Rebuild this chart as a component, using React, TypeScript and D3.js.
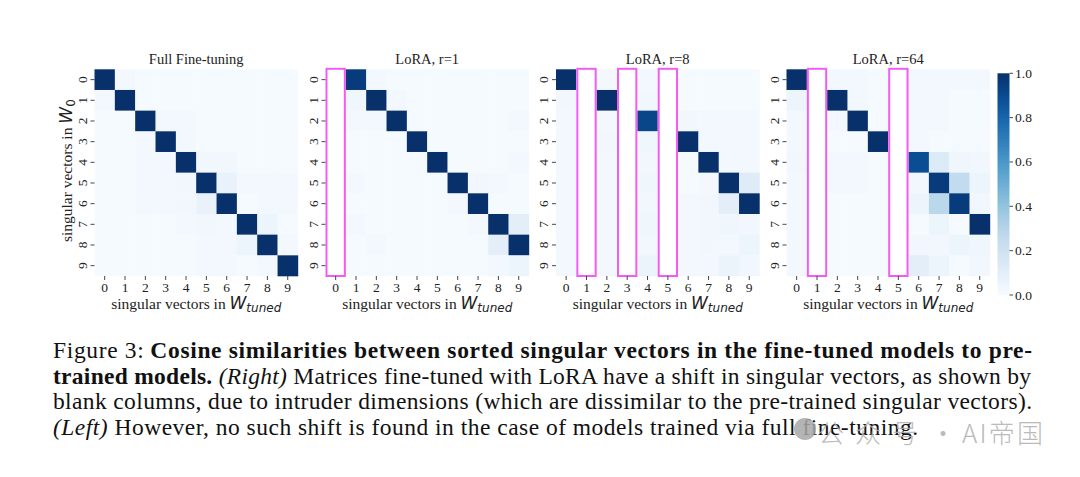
import React from "react";
import * as d3 from "d3";

// ---------- data ----------
const tickLabels = ["0", "1", "2", "3", "4", "5", "6", "7", "8", "9"];
const panelTitles = ["Full Fine-tuning", "LoRA, r=1", "LoRA, r=8", "LoRA, r=64"];

const fullFT = [
  [1, 0.02, 0.01, 0.01, 0.01, 0.01, 0.01, 0.01, 0.01, 0.01],
  [0.02, 1, 0.01, 0.01, 0.01, 0.01, 0.01, 0.01, 0.01, 0.01],
  [0.01, 0.01, 1, 0.02, 0.02, 0.01, 0.01, 0.01, 0.01, 0.01],
  [0.01, 0.01, 0.02, 1, 0.02, 0.01, 0.01, 0.01, 0.01, 0.01],
  [0.01, 0.01, 0.02, 0.02, 1, 0.03, 0.03, 0.01, 0.01, 0.01],
  [0.01, 0.01, 0.02, 0.02, 0.03, 1, 0.07, 0.02, 0.02, 0.02],
  [0.01, 0.01, 0.02, 0.02, 0.03, 0.07, 1, 0.01, 0.02, 0.02],
  [0.01, 0.01, 0.01, 0.01, 0.02, 0.03, 0.02, 1, 0.05, 0.01],
  [0.01, 0.01, 0.01, 0.01, 0.01, 0.02, 0.02, 0.05, 1, 0.02],
  [0.01, 0.01, 0.01, 0.01, 0.01, 0.02, 0.02, 0.01, 0.02, 1],
];
const lora1 = [
  [0, 0.96, 0.02, 0.01, 0.01, 0.01, 0.01, 0.01, 0.01, 0.01],
  [0, 0.04, 1, 0.02, 0.01, 0.01, 0.01, 0.01, 0.01, 0.01],
  [0, 0.02, 0.02, 1, 0.01, 0.01, 0.01, 0.01, 0.01, 0.02],
  [0, 0.01, 0.01, 0.01, 1, 0.01, 0.01, 0.01, 0.01, 0.01],
  [0, 0.01, 0.01, 0.01, 0.01, 1, 0.01, 0.01, 0.01, 0.02],
  [0, 0.02, 0.01, 0.01, 0.01, 0.01, 1, 0.03, 0.02, 0.01],
  [0, 0.01, 0.01, 0.01, 0.01, 0.01, 0.02, 1, 0.01, 0.01],
  [0, 0.02, 0.01, 0.01, 0.01, 0.01, 0.01, 0.02, 1, 0.1],
  [0, 0.01, 0.02, 0.01, 0.01, 0.01, 0.01, 0.01, 0.1, 1],
  [0, 0.01, 0.01, 0.01, 0.01, 0.01, 0.01, 0.01, 0.02, 0.05],
];
const lora8 = [
  [1, 0, 0.02, 0, 0.02, 0, 0.01, 0.01, 0.01, 0.01],
  [0.03, 0, 1, 0, 0.03, 0, 0.01, 0.01, 0.01, 0.01],
  [0.02, 0, 0.02, 0, 0.92, 0, 0.03, 0.02, 0.02, 0.02],
  [0.02, 0, 0.03, 0, 0.04, 0, 1, 0.02, 0.02, 0.02],
  [0.02, 0, 0.02, 0, 0.03, 0, 0.01, 1, 0.02, 0.02],
  [0.02, 0, 0.02, 0, 0.04, 0, 0.01, 0.02, 1, 0.12],
  [0.02, 0, 0.02, 0, 0.03, 0, 0.02, 0.03, 0.1, 1],
  [0.02, 0, 0.02, 0, 0.04, 0, 0.02, 0.03, 0.04, 0.03],
  [0.02, 0, 0.02, 0, 0.03, 0, 0.02, 0.03, 0.02, 0.05],
  [0.02, 0, 0.02, 0, 0.06, 0, 0.02, 0.02, 0.06, 0.03],
];
const lora64 = [
  [1, 0, 0.02, 0.02, 0.01, 0, 0.02, 0.02, 0.02, 0.02],
  [0.05, 0, 1, 0.02, 0.01, 0, 0.02, 0.02, 0.01, 0.01],
  [0.02, 0, 0.02, 1, 0.01, 0, 0.02, 0.02, 0.01, 0.01],
  [0.02, 0, 0.01, 0.01, 1, 0, 0.02, 0.01, 0.01, 0.01],
  [0.03, 0, 0.02, 0.02, 0.01, 0, 0.89, 0.13, 0.04, 0.03],
  [0.02, 0, 0.02, 0.02, 0.01, 0, 0.03, 0.96, 0.25, 0.05],
  [0.02, 0, 0.01, 0.01, 0.01, 0, 0.05, 0.28, 0.96, 0.03],
  [0.02, 0, 0.01, 0.01, 0.01, 0, 0.01, 0.05, 0.01, 1],
  [0.02, 0, 0.01, 0.01, 0.01, 0, 0.03, 0.03, 0.05, 0.04],
  [0.02, 0, 0.01, 0.01, 0.01, 0, 0.1, 0.05, 0.01, 0.03],
];
const blankFull: number[] = [];
const blank1 = [0];
const blank8 = [1, 3, 5];
const blank64 = [1, 5];

const colorbarTicks = [0, 0.2, 0.4, 0.6, 0.8, 1.0];

const panels = [
  { title: panelTitles[0], values: fullFT, blanks: blankFull },
  { title: panelTitles[1], values: lora1, blanks: blank1 },
  { title: panelTitles[2], values: lora8, blanks: blank8 },
  { title: panelTitles[3], values: lora64, blanks: blank64 },
];

// ---------- layout ----------
const panelLeft = [94.5, 325.5, 556, 786.5];
const top = 69.3;
const pw = 203.4;
const ph = 206.7;
const serif = "Liberation Serif, Times New Roman, Times, serif";
const sans = "DejaVu Sans, sans-serif";
const cjk = "Noto Sans CJK SC, sans-serif";
const magenta = "#f25cf2";

const x = d3.scaleBand<string>().domain(tickLabels).range([0, pw]);
const y = d3.scaleBand<string>().domain(tickLabels).range([0, ph]);
const color = d3.scaleSequential(d3.interpolateBlues).domain([0, 1]);

const cb = { x: 997.5, y0: 73.3, y1: 295, w: 12 };
const cbScale = d3.scaleLinear().domain([0, 1]).range([cb.y1, cb.y0]);

function Panel({ p, left, idx }: any) {
  return (
    <g transform={`translate(${left},${top})`}>
      {p.values.map((row: number[], r: number) =>
        row.map((v: number, c: number) => (
          <rect
            key={`${r}-${c}`}
            x={x(tickLabels[c])}
            y={y(tickLabels[r])}
            width={x.bandwidth() + 0.3}
            height={y.bandwidth() + 0.3}
            fill={p.blanks.includes(c) ? "#ffffff" : color(v)}
          />
        ))
      )}
      {p.blanks.map((c: number) => (
        <rect
          key={`b${c}`}
          x={(x(tickLabels[c]) as number) + 1}
          y={-0.5}
          width={x.bandwidth() - 2}
          height={ph + 0.5}
          fill="none"
          stroke={magenta}
          strokeWidth={2}
        />
      ))}
      {tickLabels.map((t) => {
        const cy = (y(t) as number) + y.bandwidth() / 2;
        return (
          <g key={`y${t}`}>
            <line x1={-4} x2={0} y1={cy} y2={cy} stroke="#333" strokeWidth={0.9} />
            <text
              transform={`translate(${-12.5},${cy}) rotate(-90)`}
              textAnchor="middle"
              dominantBaseline="central"
              style={{ fontFamily: serif }}
              fontSize={13.5}
              fill="#222"
            >
              {t}
            </text>
          </g>
        );
      })}
      {tickLabels.map((t) => {
        const cx = (x(t) as number) + x.bandwidth() / 2;
        return (
          <g key={`x${t}`}>
            <line x1={cx} x2={cx} y1={ph} y2={ph + 4} stroke="#333" strokeWidth={0.9} />
            <text x={cx} y={ph + 16.5} textAnchor="middle" style={{ fontFamily: serif }} fontSize={13.5} fill="#222">
              {t}
            </text>
          </g>
        );
      })}
      <text x={pw / 2} y={-5} textAnchor="middle" style={{ fontFamily: serif }} fontSize={14.5} fill="#222">
        {p.title}
      </text>
      <text x={pw / 2} y={ph + 33} textAnchor="middle" style={{ fontFamily: serif }} fontSize={15.5} fill="#222">
        singular vectors in{" "}
        <tspan style={{ fontFamily: sans }} fontStyle="italic" fontSize={17}>W</tspan>
        <tspan style={{ fontFamily: sans }} fontStyle="italic" fontSize={12} dy={3}>tuned</tspan>
      </text>
      {idx === 0 && (
        <text
          transform={`translate(${-23},${ph / 2 - 2}) rotate(-90)`}
          textAnchor="middle"
          style={{ fontFamily: serif }}
          fontSize={15.5}
          fill="#222"
        >
          singular vectors in{" "}
          <tspan style={{ fontFamily: sans }} fontStyle="italic" fontSize={17}>W</tspan>
          <tspan style={{ fontFamily: sans }} fontSize={12} dy={3}>0</tspan>
        </text>
      )}
    </g>
  );
}

export default function App() {
  return (
    <svg
      width={1080}
      height={477}
      style={{ position: "absolute", left: 0, top: 0, background: "#fff" }}
    >
      <defs>
        <linearGradient id="cbgrad" x1="0" y1="1" x2="0" y2="0">
          {d3.range(0, 1.0001, 0.05).map((t) => (
            <stop key={t} offset={`${t * 100}%`} stopColor={color(t)} />
          ))}
        </linearGradient>
      </defs>
      <rect x={0} y={0} width={1080} height={477} fill="#fff" />
      {panels.map((p, i) => (
        <Panel key={i} p={p} left={panelLeft[i]} idx={i} />
      ))}
      <rect x={cb.x} y={cb.y0} width={cb.w} height={cb.y1 - cb.y0} fill="url(#cbgrad)" />
      {colorbarTicks.map((t) => (
        <g key={t}>
          <line x1={cb.x + cb.w} x2={cb.x + cb.w + 3.5} y1={cbScale(t)} y2={cbScale(t)} stroke="#333" strokeWidth={0.9} />
          <text x={cb.x + cb.w + 5.5} y={cbScale(t)} dominantBaseline="central" style={{ fontFamily: serif }} fontSize={13.5} fill="#222">
            {t.toFixed(1)}
          </text>
        </g>
      ))}
      <g style={{ fontFamily: serif }} fontSize={23.5} fill="#111">
        <text x={53} y={358} textLength={979} lengthAdjust="spacing">
          Figure 3:<tspan dx={6} fontWeight="bold">Cosine similarities between sorted singular vectors in the fine-tuned models to pre-</tspan>
        </text>
        <text x={53} y={383.5} textLength={978} lengthAdjust="spacing">
          <tspan fontWeight="bold">trained models.</tspan> <tspan fontStyle="italic">(Right)</tspan> Matrices fine-tuned with LoRA have a shift in singular vectors, as shown by
        </text>
        <text x={53} y={409} textLength={979} lengthAdjust="spacing">
          blank columns, due to intruder dimensions (which are dissimilar to the pre-trained singular vectors).
        </text>
        <text x={53} y={434.5} textLength={865} lengthAdjust="spacing">
          <tspan fontStyle="italic">(Left)</tspan> However, no such shift is found in the case of models trained via full fine-tuning.
        </text>
      </g>
      <g opacity={0.85} fill="#b0b0b0" style={{ fontFamily: cjk }} fontSize={26} fontWeight={300}>
        <circle cx={805} cy={429} r={11} fill="#a8a8a8" />
        <text x={818} y={443} textLength={100} lengthAdjust="spacing">公众号</text>
        <text x={943} y={443} textAnchor="middle">·</text>
        <text x={962} y={443} textLength={81} lengthAdjust="spacing">AI帝国</text>
      </g>
    </svg>
  );
}
